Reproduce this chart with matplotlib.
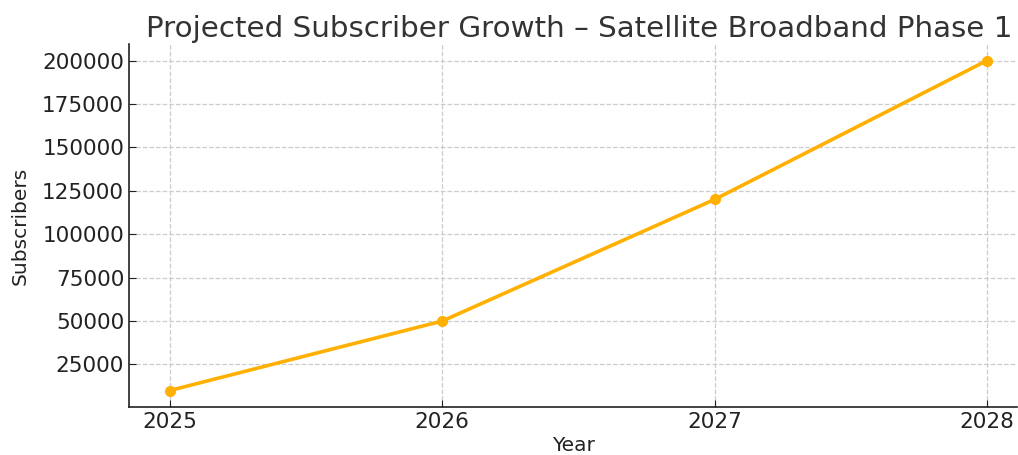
import matplotlib
matplotlib.use("Agg")
import matplotlib.pyplot as plt

years = [2025, 2026, 2027, 2028]
subscribers = [10000, 50000, 120000, 200000]

fig = plt.figure(figsize=(10.18, 4.55), dpi=100)
ax = fig.add_axes([129 / 1018, 1 - 407 / 455, (1017 - 129) / 1018, (407 - 44) / 455])

ax.plot(years, subscribers, color="#FFB000", linewidth=2.6, marker="o", markersize=7)

ax.set_xlim(2024.85, 2028.11)
ax.set_ylim(500, 209500)
ax.set_xticks(years)
ax.set_yticks([25000, 50000, 75000, 100000, 125000, 150000, 175000, 200000])

ax.grid(True, linestyle="--", color="#cccccc", linewidth=0.9)
ax.spines["top"].set_visible(False)
ax.spines["right"].set_visible(False)
for s in ["left", "bottom"]:
    ax.spines[s].set_color("#222222")
    ax.spines[s].set_linewidth(1.2)
ax.tick_params(direction="in", labelsize=15.5, colors="#222222", length=5)

ax.set_title("Projected Subscriber Growth – Satellite Broadband Phase 1",
             fontsize=21.2, color="#333333", pad=5, x=0.507)
ax.set_xlabel("Year", fontsize=14.5, color="#222222", labelpad=3)
ax.set_ylabel("Subscribers", fontsize=14.5, color="#222222", labelpad=9)

fig.savefig("out.png", dpi=100)
